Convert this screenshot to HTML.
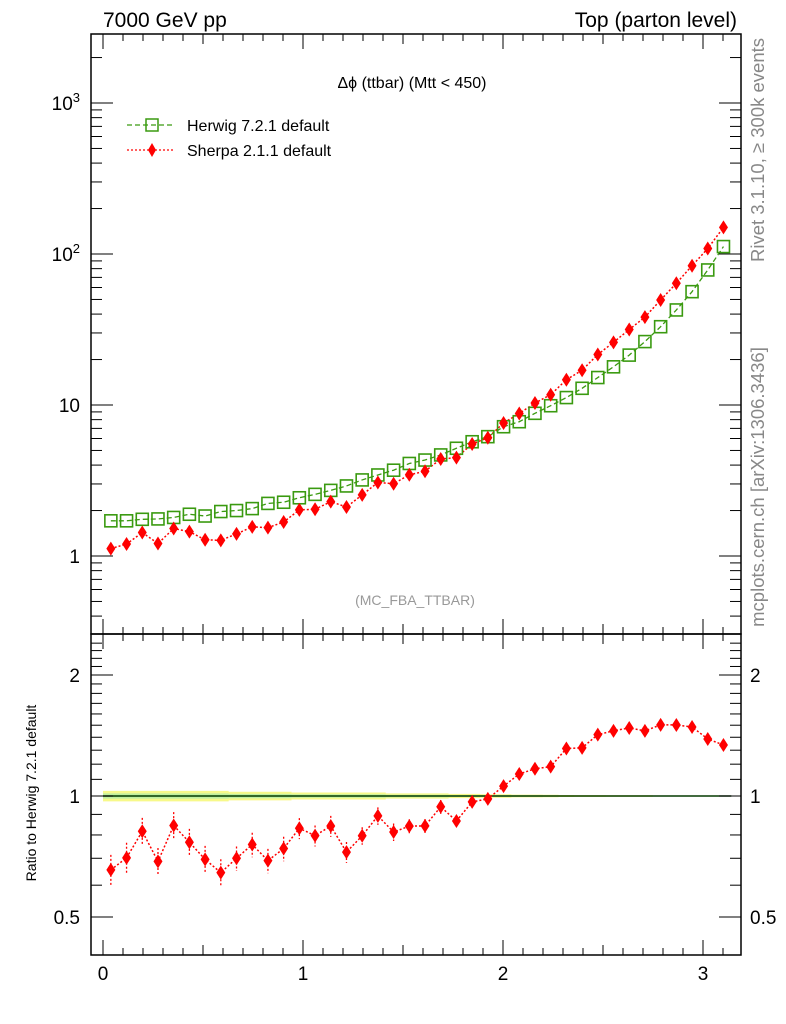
<!DOCTYPE html>
<html><head><meta charset="utf-8"><style>
html,body{margin:0;padding:0;background:#fff;}
svg{display:block;font-family:"Liberation Sans",sans-serif;}
</style></head><body>
<svg id="chart" width="786" height="1024" viewBox="0 0 786 1024" xmlns="http://www.w3.org/2000/svg">
<g id="bands"></g>
<g id="marks"></g>
<g id="axes"></g>
<text x="103" y="27" font-size="21">7000 GeV pp</text>
<text x="737" y="27" font-size="21" text-anchor="end">Top (parton level)</text>
<text x="412" y="88" font-size="16" text-anchor="middle">Δϕ (ttbar) (Mtt &lt; 450)</text>
<text x="415" y="605" font-size="14" fill="#999" text-anchor="middle">(MC_FBA_TTBAR)</text>
<g>
<line x1="127" y1="125" x2="175" y2="125" stroke="#3a9a10" stroke-width="1.3" stroke-dasharray="5,3"/>
<rect x="146" y="119" width="12" height="12" fill="none" stroke="#3a9a10" stroke-width="1.5"/>
<text x="187" y="131" font-size="16">Herwig 7.2.1 default</text></g>
<g>
<line x1="127" y1="150" x2="175" y2="150" stroke="#f00" stroke-width="1.3" stroke-dasharray="2,2"/>
<polygon points="152,143 156,150 152,157 148,150" fill="#f00"/>
<text x="187" y="156" font-size="16">Sherpa 2.1.1 default</text></g>
<text transform="translate(764,150) rotate(-90)" font-size="18.5" fill="#888" text-anchor="middle">Rivet 3.1.10, ≥ 300k events</text>
<text transform="translate(764,487) rotate(-90)" font-size="18.5" fill="#888" text-anchor="middle">mcplots.cern.ch [arXiv:1306.3436]</text>
<text transform="translate(36,793) rotate(-90)" font-size="14" text-anchor="middle">Ratio to Herwig 7.2.1 default</text>
</svg>
<script>
const xCenters = [];
const binWidth = Math.PI/40;
const herwig = [1.71,1.71,1.75,1.76,1.80,1.89,1.84,1.97,2.00,2.06,2.23,2.27,2.43,2.56,2.72,2.91,3.19,3.44,3.70,4.10,4.32,4.67,5.17,5.71,6.17,7.18,7.75,8.81,9.89,11.2,12.9,15.2,17.9,21.4,26.3,33.0,42.6,56.3,78.4,112];
const sherpa = [1.12,1.20,1.43,1.21,1.52,1.45,1.28,1.27,1.40,1.56,1.54,1.68,2.02,2.04,2.29,2.11,2.54,3.07,3.01,3.45,3.64,4.39,4.48,5.52,6.07,7.60,8.79,10.3,11.7,14.7,17.0,21.6,26.0,31.6,38.2,49.6,64.0,83.6,108.7,150];
const sherpaErrFrac = [0.09,0.09,0.08,0.08,0.08,0.08,0.08,0.08,0.07,0.07,0.07,0.07,0.06,0.06,0.06,0.06,0.05,0.05,0.05,0.04,0.04,0.04,0.03,0.03,0.03,0.03,0.025,0.025,0.02,0.02,0.02,0.015,0.015,0.015,0.01,0.01,0.01,0.01,0.01,0.01];
const herwigErrFrac = [0.03,0.03,0.03,0.03,0.03,0.03,0.03,0.03,0.025,0.025,0.025,0.025,0.02,0.02,0.02,0.02,0.02,0.02,0.015,0.015,0.015,0.015,0.012,0.012,0.01,0.01,0.008,0.008,0.007,0.006,0.005,0.005,0.004,0.004,0.004,0.003,0.003,0.003,0.003,0.003];
const xTickLabels = ["0","1","2","3"];
const mainTickLabels = [[1,"1"],[10,"10"],[100,"10²"],[1000,"10³"]];
const ratioTickLabels = [[0.5,"0.5"],[1,"1"],[2,"2"]];
for(let i=0;i<40;i++) xCenters.push((i+0.5)*binWidth);

const L=91,R=741,T1=34,B1=634,T2=634,B2=955;
const X=v=>103+200*v;
const Y=v=>556-151*Math.log10(v);
const YR=v=>796-402*Math.log10(v);
const NS="http://www.w3.org/2000/svg";
function mk(tag,attrs,parent){const e=document.createElementNS(NS,tag);for(const k in attrs)e.setAttribute(k,attrs[k]);parent.appendChild(e);return e;}
const marks=document.getElementById('marks'), axes=document.getElementById('axes'), bands=document.getElementById('bands');

let up="",dn="",up2="",dn2="";
for(let i=0;i<40;i++){const x0=X(i*binWidth),x1=X((i+1)*binWidth);const e=herwigErrFrac[i];
 up+=`${x0},${YR(1+e)} ${x1},${YR(1+e)} `; dn=`${x1},${YR(1-e)} ${x0},${YR(1-e)} `+dn;
 up2+=`${x0},${YR(1+e/2)} ${x1},${YR(1+e/2)} `; dn2=`${x1},${YR(1-e/2)} ${x0},${YR(1-e/2)} `+dn2;}
const b1=mk('polygon',{points:up+dn,fill:'#f7f98a'},bands);


const b2=mk('polygon',{points:up2+dn2,fill:'#c0f0a0'},bands);


const refl=mk('line',{x1:X(0),x2:X(Math.PI),y1:YR(1),y2:YR(1),stroke:'#053a00','stroke-width':1.5},bands);



const hp=xCenters.map((x,i)=>`${X(x)},${Y(herwig[i])}`).join(' ');
const hl=mk('polyline',{points:hp,fill:'none',stroke:'#3a9a10','stroke-width':1.3,'stroke-dasharray':'5,3'},marks);


const sp=xCenters.map((x,i)=>`${X(x)},${Y(sherpa[i])}`).join(' ');
const sl=mk('polyline',{points:sp,fill:'none',stroke:'#f00','stroke-width':1.5,'stroke-dasharray':'2,2'},marks);


const rp=xCenters.map((x,i)=>`${X(x)},${YR(sherpa[i]/herwig[i])}`).join(' ');
const rl=mk('polyline',{points:rp,fill:'none',stroke:'#f00','stroke-width':1.5,'stroke-dasharray':'2,2'},marks);



function diamond(cx,cy,name){const d=mk('polygon',{points:`${cx},${cy-7} ${cx+4.5},${cy} ${cx},${cy+7} ${cx-4.5},${cy}`,fill:'#f00'},marks);
 
 }
for(let i=0;i<40;i++){
 const x=X(xCenters[i]);
 const sq=mk('rect',{x:x-6,y:Y(herwig[i])-6,width:12,height:12,fill:'none',stroke:'#3a9a10','stroke-width':1.6},marks);
 
 
 const e=sherpaErrFrac[i];
 const eb=mk('line',{x1:x,x2:x,y1:Y(sherpa[i]*(1+e)),y2:Y(sherpa[i]*(1-e)),stroke:'#f00','stroke-width':1.3,'stroke-dasharray':'2,2'},marks);
 
 
 diamond(x,Y(sherpa[i]),'sherpa-point');
 const r=sherpa[i]/herwig[i];
 const reb=mk('line',{x1:x,x2:x,y1:YR(r*(1+e)),y2:YR(r*(1-e)),stroke:'#f00','stroke-width':1.3,'stroke-dasharray':'2,2'},marks);
 
 
 diamond(x,YR(r),'ratio-point');
}

const f1=mk('rect',{x:L,y:T1,width:R-L,height:B1-T1,fill:'none',stroke:'#000','stroke-width':1.5},axes);


const f2=mk('rect',{x:L,y:T2,width:R-L,height:B2-T2,fill:'none',stroke:'#000','stroke-width':1.5},axes);



for(let k=0;k<=31;k++){const v=k/10;const x=X(v);if(x>R)break;const maj=k%10===0;const len=maj?15:(k%5===0?10:7);
 for(const [a,b] of [[T1,B1],[T2,B2]]){mk('line',{x1:x,x2:x,y1:b,y2:b-len,stroke:'#000','stroke-width':1},axes);mk('line',{x1:x,x2:x,y1:a,y2:a+len,stroke:'#000','stroke-width':1},axes);}}
xTickLabels.forEach((t,i)=>{const tx=mk('text',{x:X(i),y:980,'font-size':19,'text-anchor':'middle'},axes);tx.textContent=t;
 
 });

for(let d=-1;d<=3;d++){for(let m=1;m<10;m++){const v=m*Math.pow(10,d);const y=Y(v);if(y<T1||y>B1)continue;const len=m===1?22:11;
 mk('line',{x1:L,x2:L+len,y1:y,y2:y,stroke:'#000','stroke-width':1},axes);mk('line',{x1:R,x2:R-len,y1:y,y2:y,stroke:'#000','stroke-width':1},axes);}}
mainTickLabels.forEach(([v,t])=>{const tx=mk('text',{x:80,y:Y(v)+7,'font-size':19,'text-anchor':'end'},axes);
 if(t.indexOf('²')>=0||t.indexOf('³')>=0){tx.textContent='10';const s=mk('tspan',{dy:-8,'font-size':13},tx);s.textContent=t.slice(2)==='²'?'2':'3';}else tx.textContent=t;
 
 });

for(let k=5;k<=24;k++){const v=k/10;const y=YR(v);if(y<T2)continue;const maj=(k===5||k===10||k===20);const len=maj?22:11;
 mk('line',{x1:L,x2:L+len,y1:y,y2:y,stroke:'#000','stroke-width':1},axes);mk('line',{x1:R,x2:R-len,y1:y,y2:y,stroke:'#000','stroke-width':1},axes);}
ratioTickLabels.forEach(([v,t])=>{for(const [xx,anc] of [[80,'end'],[750,'start']]){const tx=mk('text',{x:xx,y:YR(v)+7,'font-size':19,'text-anchor':anc},axes);tx.textContent=t;
 
 }});
</script>
</body></html>
